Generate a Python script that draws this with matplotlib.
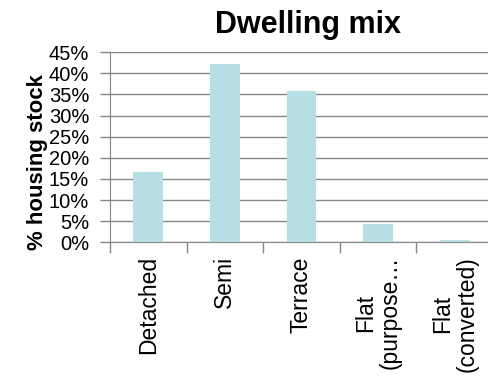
import matplotlib.pyplot as plt
import numpy as np

categories = ["Detached", "Semi", "Terrace", "Flat\n(purpose\u2026", "Flat\n(converted)"]
shares = [16.6, 42.2, 35.8, 4.3, 0.5]
yticks = list(range(0, 46, 5))

plt.rcParams['font.family'] = ['Liberation Sans', 'DejaVu Sans']

fig = plt.figure(figsize=(4.89, 3.78), dpi=100)
ax = fig.add_axes([0.225, 0.359, 0.783, 0.503])

grey = "#868686"
x = np.arange(len(categories))
ax.bar(x, shares, width=0.39, color="#b7dee2", zorder=3)

ax.set_xlim(-0.5, len(categories) - 0.5)
ax.set_ylim(0, 45)
ax.set_yticks(yticks)
ax.set_yticklabels([f"{v}%" for v in yticks], fontsize=14.5)
ax.yaxis.grid(True, color=grey, linewidth=1, zorder=0)

ax.set_xticks(x)
ax.set_xticklabels(categories, rotation=90, fontsize=16.5, va="top", ha="center",
                   multialignment="center", linespacing=1.1)
ax.tick_params(axis="x", which="major", length=0, pad=10)
ax.set_xticks(np.arange(-0.5, len(categories), 1), minor=True)
ax.tick_params(axis="x", which="minor", length=8, color=grey, width=1)
ax.tick_params(axis="y", length=7, color=grey, width=1, pad=8)

for side in ["top", "right"]:
    ax.spines[side].set_visible(False)
for side in ["left", "bottom"]:
    ax.spines[side].set_color(grey)

ax.set_ylabel("% housing stock", fontsize=16, fontweight="bold")
ax.yaxis.set_label_coords(-0.161, 0.423)
fig.text(308 / 489, 1 - 33 / 378, "Dwelling mix", fontsize=22, fontweight="bold",
         ha="center", va="baseline")

fig.savefig("out.png", dpi=100)
